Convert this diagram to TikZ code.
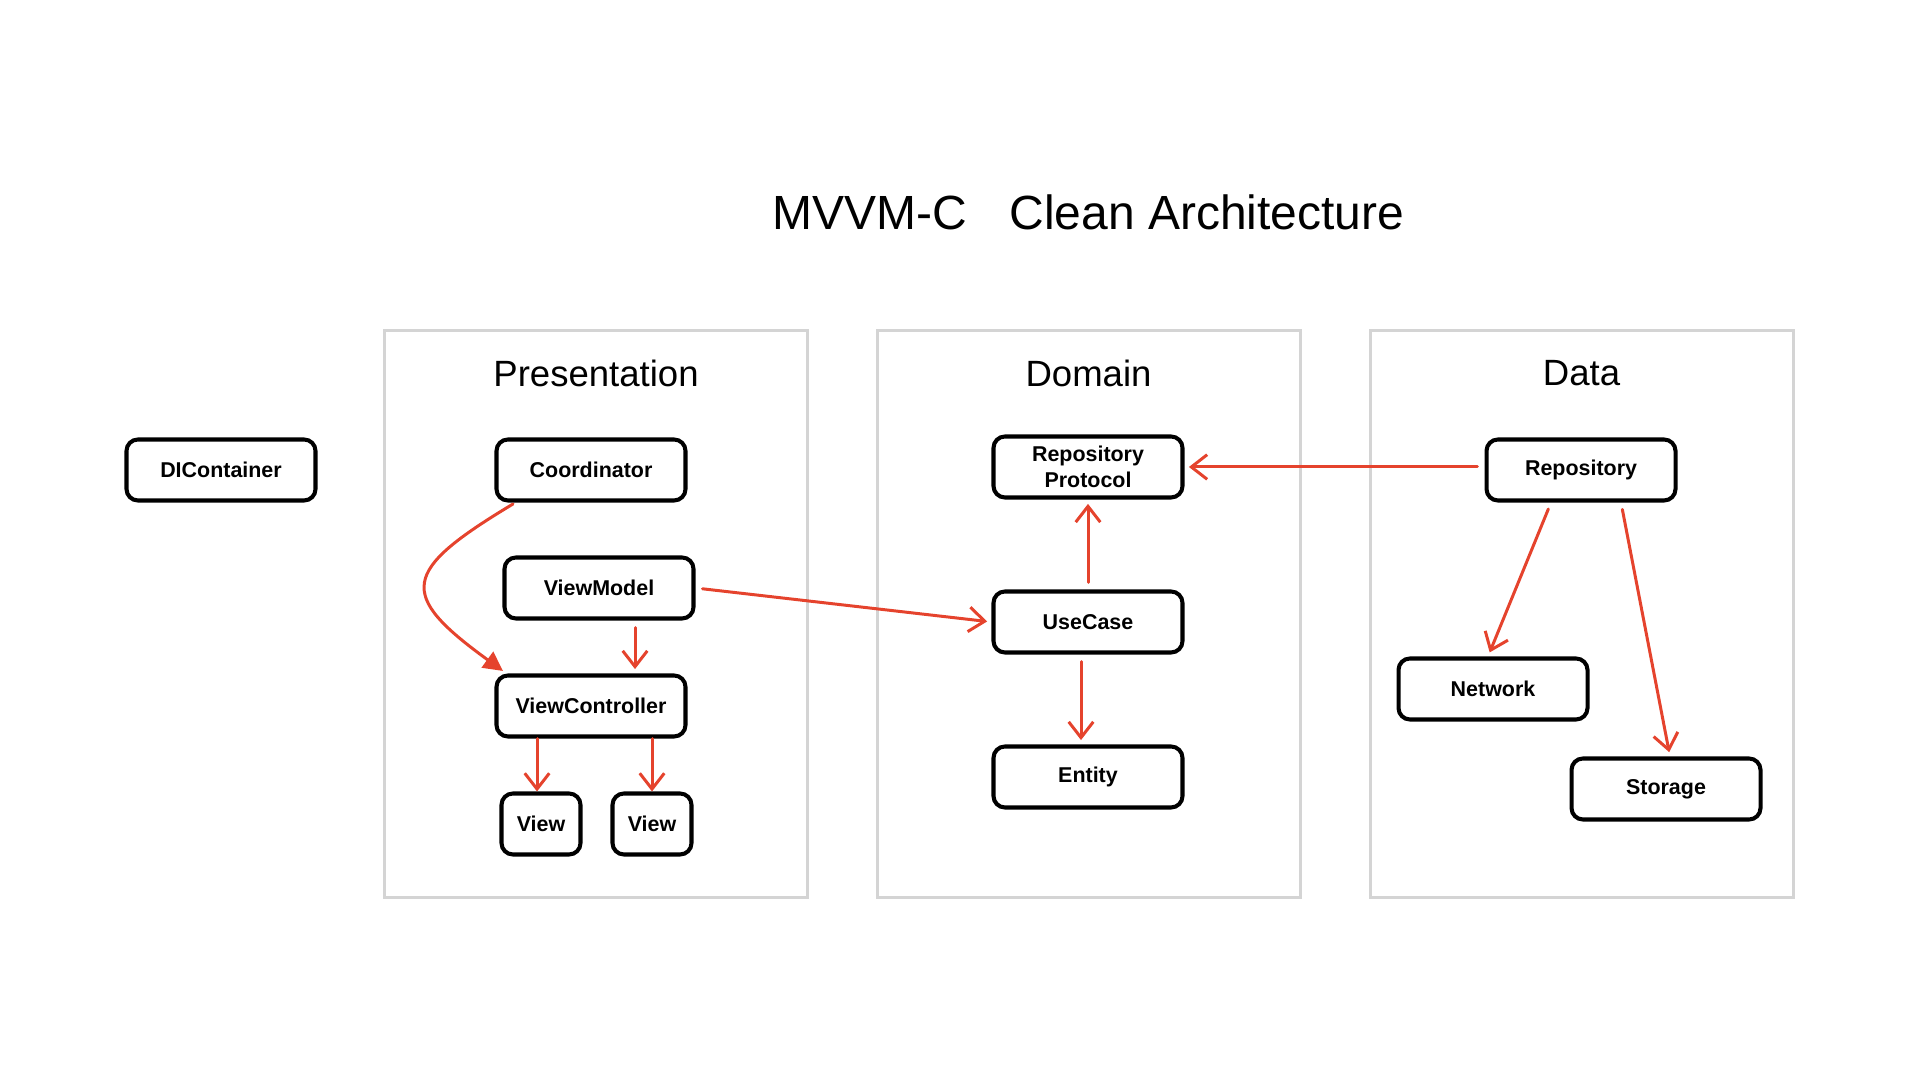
\documentclass[tikz,border=0pt]{standalone}
\usepackage{fontspec}
\setmainfont{Liberation Sans}
\usetikzlibrary{positioning,arrows.meta}
\definecolor{rust}{HTML}{E5432D}
\definecolor{frame}{HTML}{D4D4D4}

\begin{document}
\begin{tikzpicture}[
  box/.style={draw=black, fill=white, rounded corners=6.5pt, line width=2.3pt, minimum width=3.78cm, minimum height=1.22cm, inner sep=0pt, align=center, font=\fontsize{12.2}{14.8}\selectfont\bfseries},
  viewbox/.style={box, minimum width=1.58cm},
  panel/.style={draw=frame, line width=1.7pt, minimum width=8.46cm, minimum height=11.34cm, inner sep=0pt},
  heading/.style={font=\fontsize{20.8}{25}\selectfont},
  flow/.style={-{Straight Barb[length=9pt,width=14pt]}, line width=1.7pt, draw=rust, line cap=round, line join=round, shorten <=4pt, shorten >=2.5pt},
  push/.style={-{Triangle[length=11pt,width=11pt]}, line width=1.7pt, draw=rust, line cap=round}
]
\useasboundingbox (0,0) rectangle (38.4,21.6);

\node[font=\fontsize{27.3}{32}\selectfont] (title) at (21.77,17.36) {MVVM-C\hspace{0.84cm}Clean Architecture};

\node[panel] (pres) at (11.92,9.32) {};
\node[panel] (dom) at (21.77,9.32) {};
\node[panel] (dat) at (31.63,9.32) {};
\node[heading] (presT) at (11.92,14.14) {Presentation};
\node[heading] (domT) at (21.77,14.14) {Domain};
\node[heading] (datT) at (31.63,14.14) {Data};

\node[box] (di) at (4.42,12.2) {DIContainer};
\node[box] (coord) at (11.82,12.2) {Coordinator};
\node[box] (vm) at (11.98,9.84) {ViewModel};
\node[box] (vc) at (11.82,7.48) {ViewController};
\node[viewbox] (viewA) at (10.82,5.12) {View};
\node[viewbox] (viewB) at (13.04,5.12) {View};

\node[box] (proto) at (21.76,12.26) {Repository\\Protocol};
\node[box] (uc) at (21.76,9.16) {UseCase};
\node[box] (ent) at (21.76,6.06) {Entity};

\node[box] (repo) at (31.62,12.2) {Repository};
\node[box] (net) at (29.86,7.82) {Network};
\node[box] (store) at (33.32,5.82) {Storage};

\draw[push] ([xshift=0.37cm,yshift=-0.03cm]coord.south west) to[out=211,in=144,looseness=2] ([xshift=0.17cm,yshift=0.05cm]vc.north west);
\draw[flow] ([xshift=0.72cm]vm.south) -- ([xshift=0.72cm]vm.south |- vc.north);
\draw[flow] (vm.east) -- (uc.west);
\draw[flow, shorten <=0pt, shorten >=0pt] ([xshift=-0.08cm]viewA.north |- vc.south) -- ([xshift=-0.08cm]viewA.north);
\draw[flow, shorten <=0pt, shorten >=0pt] (viewB.north |- vc.south) -- (viewB.north);

\draw[flow] (uc) -- (proto);
\draw[flow] ([xshift=-0.14cm]uc.south) -- ([xshift=-0.14cm]ent.north);

\draw[flow] (repo.west |- proto.east) -- (proto.east);
\draw[flow] ([xshift=-0.6cm]repo.south) -- ([xshift=-0.1cm]net.north);
\draw[flow] ([xshift=0.8cm]repo.south) -- ([xshift=0.08cm]store.north);
\end{tikzpicture}
\end{document}
